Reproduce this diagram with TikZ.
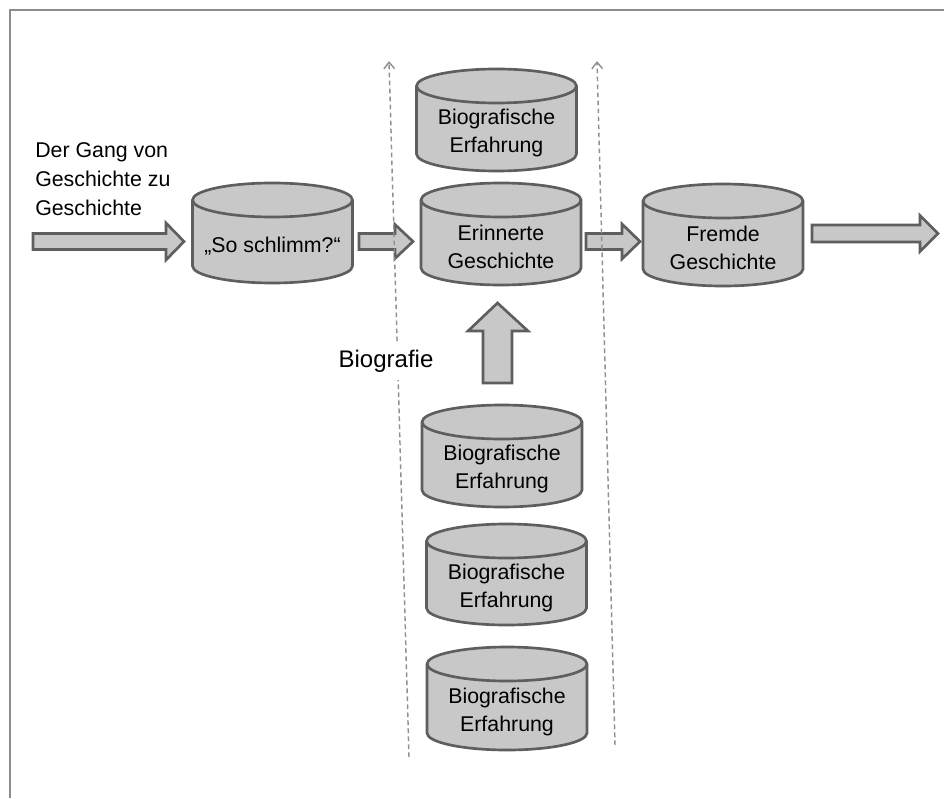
\documentclass[tikz,border=0pt]{standalone}
\usepackage{fontspec}
\setmainfont{Liberation Sans}
\usetikzlibrary{arrows.meta}
\definecolor{cylfill}{HTML}{C8C8C8}
\definecolor{cylline}{HTML}{5E5E5E}
\definecolor{dashcol}{HTML}{909090}
\definecolor{framecol}{HTML}{8C8C8C}
\tikzset{
  cylbody/.style={fill=cylfill, draw=cylline, line width=2pt},
  cylfront/.style={draw=cylline, line width=2pt},
  cyltext/.style={align=center, inner sep=0pt, font=\fontsize{16}{21}\selectfont},
  blockarrow/.style={fill=cylfill, draw=cylline, line width=2pt, line join=miter},
  dashline/.style={draw=dashcol, line width=1.1pt, dash pattern=on 3.5pt off 2.5pt, -{Straight Barb[length=5pt,width=8pt,line width=1.1pt]}},
  lefttext/.style={align=left, inner sep=0pt, font=\fontsize{16}{21.75}\selectfont},
  labelbox/.style={fill=white, inner xsep=12pt, inner ysep=6pt, font=\fontsize{18}{22}\selectfont}
}
% name, cx, top, bottom, text
\newcommand\mycyl[5]{%
  \filldraw[cylbody] ({#2-80},{#3+17}) -- ({#2-80},{#4-17})
     arc[start angle=180,end angle=360,x radius=60pt,y radius=12.75pt]
     -- ({#2+80},{#3+17})
     arc[start angle=0,end angle=180,x radius=60pt,y radius=12.75pt] -- cycle;
  \draw[cylfront] ({#2-80},{#3+17}) arc[start angle=180,end angle=360,x radius=60pt,y radius=12.75pt];
  \node[cyltext] (#1) at ({#2},{(#3+#4)/2+13}) {#5};
}
% x0, xhead, xtip, cy, shaft half, head half
\newcommand\harrow[6]{%
  \draw[blockarrow] (#1,{#4-#5}) -- (#2,{#4-#5}) -- (#2,{#4-#6}) -- (#3,#4)
     -- (#2,{#4+#6}) -- (#2,{#4+#5}) -- (#1,{#4+#5}) -- cycle;
}
\begin{document}
\begin{tikzpicture}[x=0.75pt, y=-0.75pt]
\useasboundingbox (0,0) rectangle (944,798);
\draw[framecol, line width=1.5pt] (944,10) -- (9.5,10) -- (9.5,798);

% cylinders
\mycyl{so}{272.5}{183}{283}{„So schlimm?“}
\mycyl{biotop}{496.5}{69}{171}{Biografische\\Erfahrung}
\mycyl{erin}{501}{183}{285}{Erinnerte\\Geschichte}
\mycyl{fremd}{723}{184}{286}{Fremde\\Geschichte}
\mycyl{bioa}{502}{405}{507}{Biografische\\Erfahrung}
\mycyl{biob}{506.5}{524}{625}{Biografische\\Erfahrung}
\mycyl{bioc}{507}{647}{750}{Biografische\\Erfahrung}

% block arrows
\harrow{33}{166}{184}{241.5}{8}{18.5}
\harrow{359}{395}{413}{241.5}{8}{17}
\harrow{586}{622}{640}{241.5}{8}{17.5}
\harrow{812}{920}{938}{233.5}{8.5}{18}
\draw[blockarrow] (483,383) -- (483,331) -- (468,331) -- (497.5,303) -- (528,331)
   -- (512,331) -- (512,383) -- cycle;

% dashed boundaries
\coordinate (dla) at (409,757);
\coordinate (dlb) at (389,61);
\coordinate (dra) at (615,745);
\coordinate (drb) at (597,61);
\draw[dashline] (dla) -- (dlb);
\draw[dashline] (dra) -- (drb);

% labels
\node[labelbox] (biolabel) at (386,361) {Biografie};
\node[lefttext, anchor=west] (gang) at (35,179) {Der Gang von\\Geschichte zu\\Geschichte};
\end{tikzpicture}
\end{document}
